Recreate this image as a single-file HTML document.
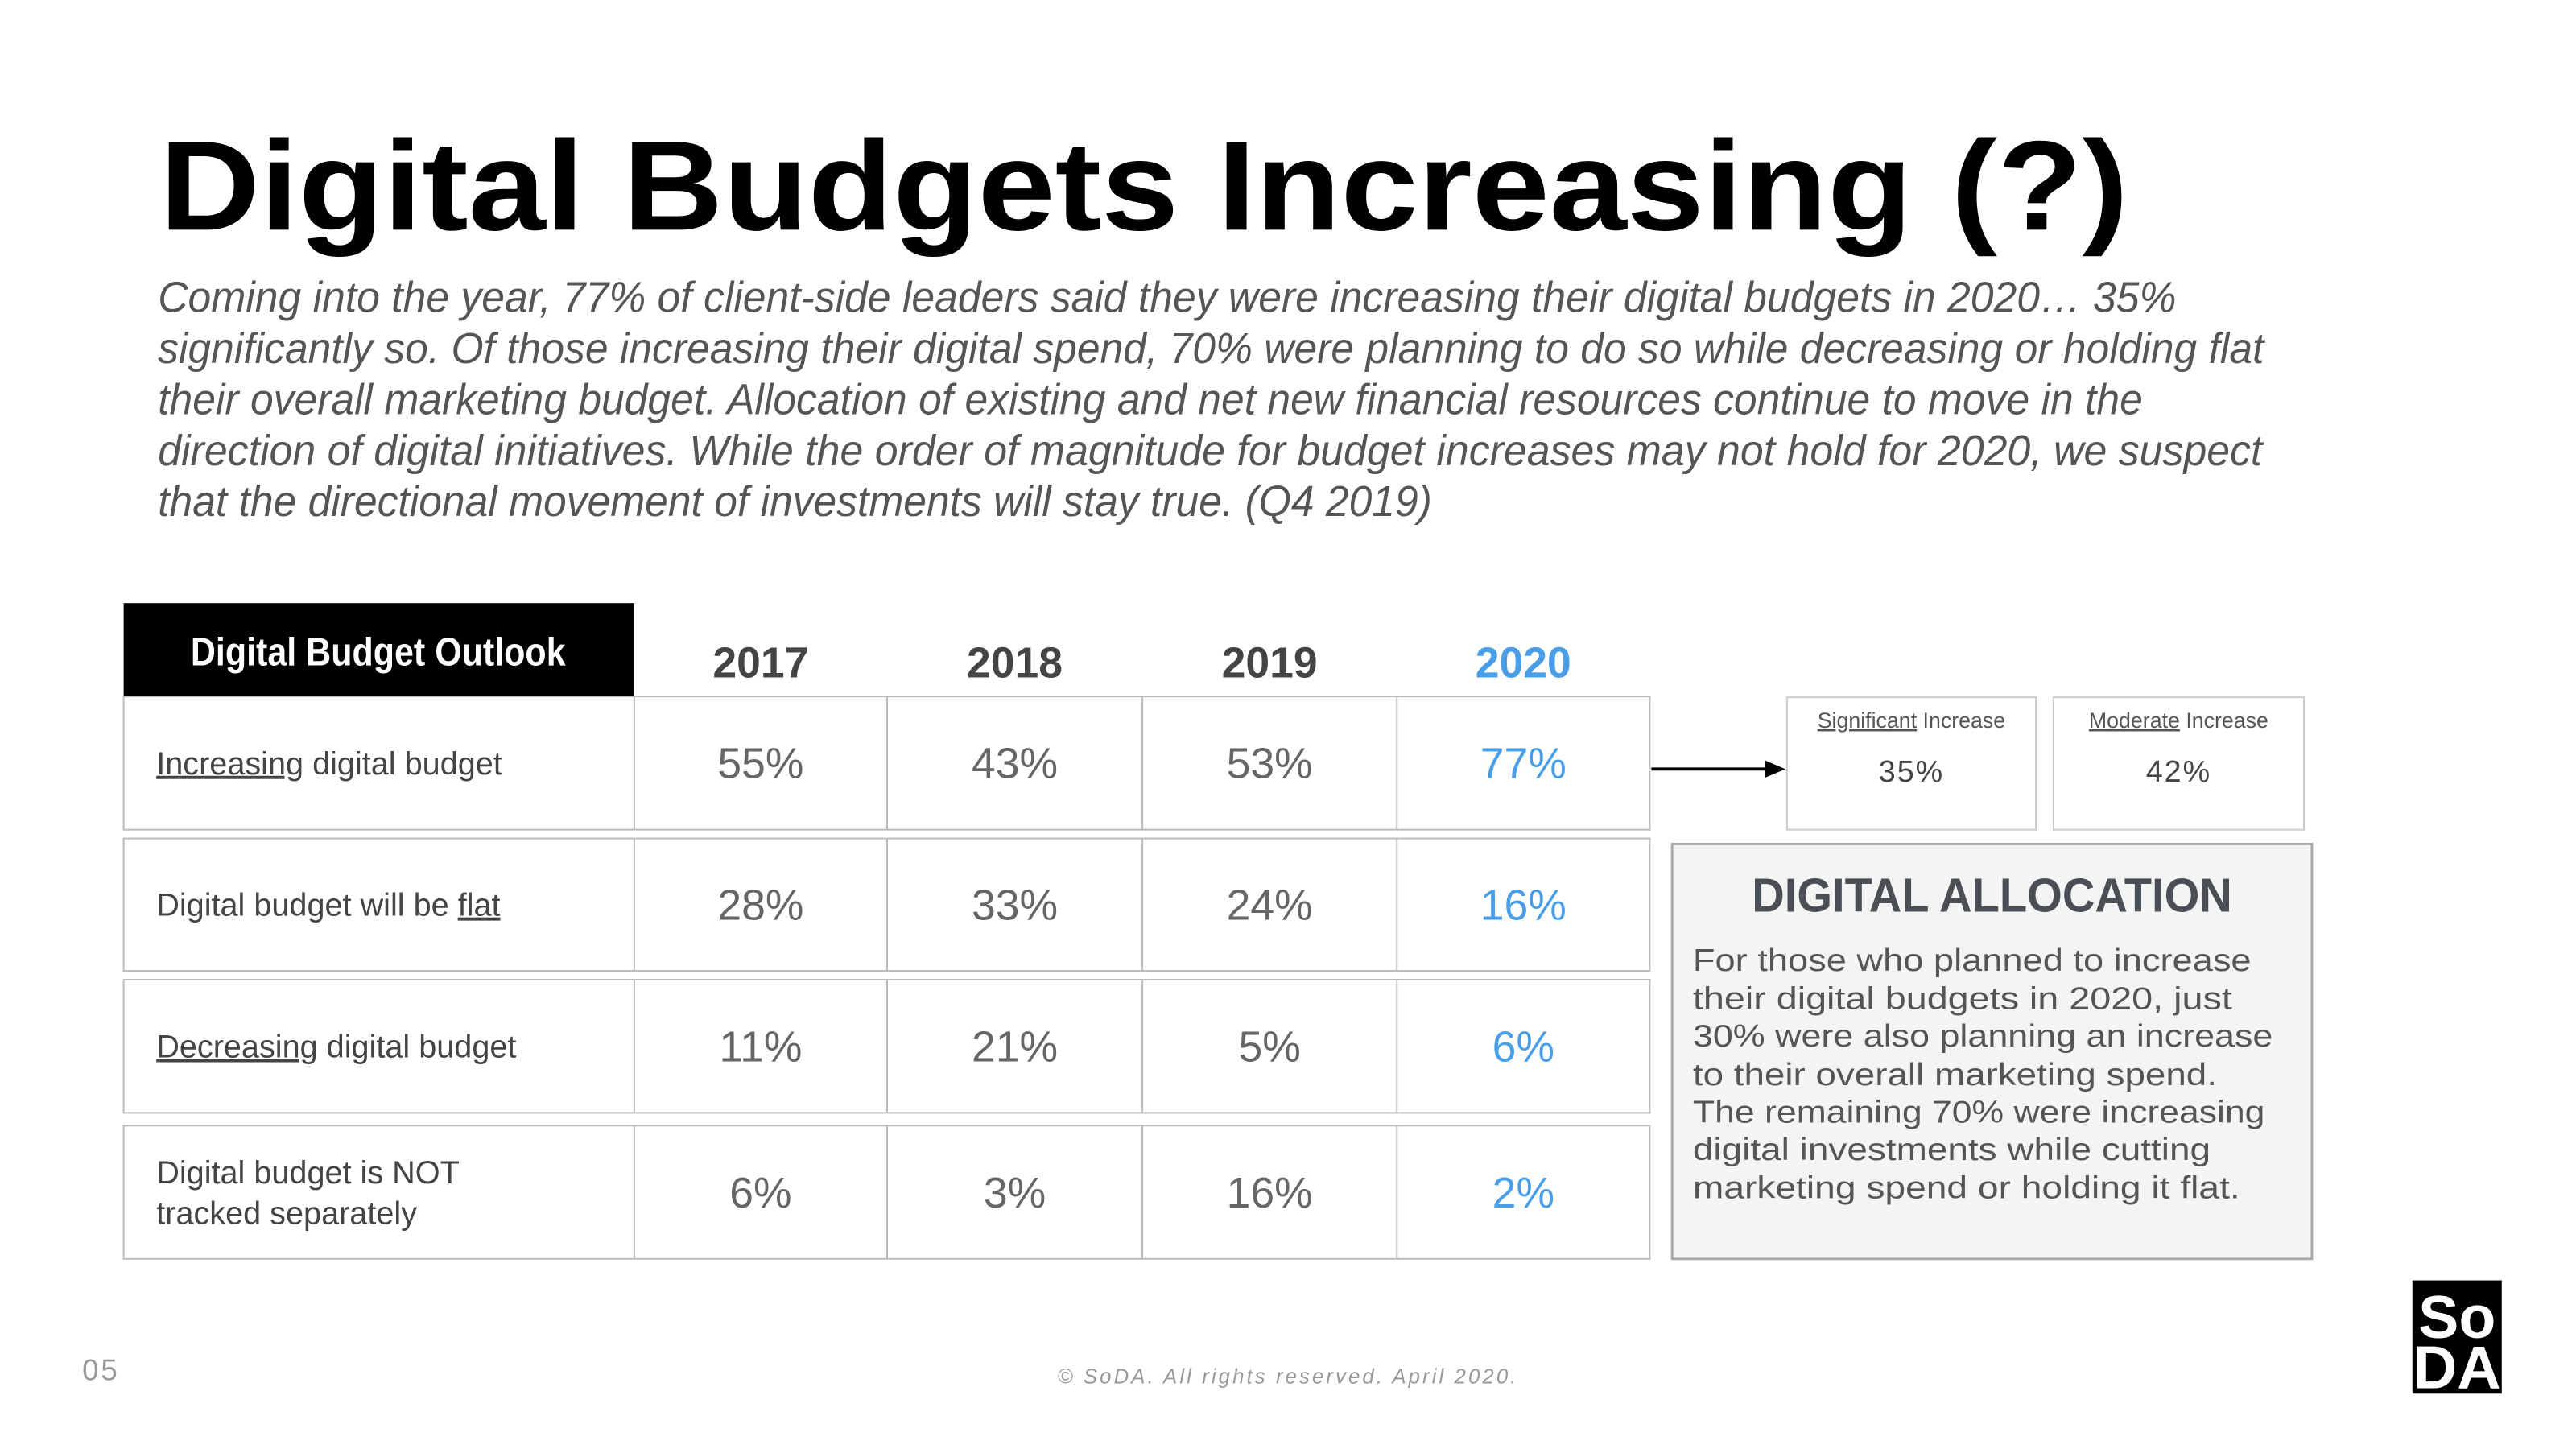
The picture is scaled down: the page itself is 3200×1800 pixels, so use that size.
<!DOCTYPE html>
<html><head><meta charset="utf-8"><style>
html,body{margin:0;padding:0;background:#fff;width:3200px;height:1800px;overflow:hidden}
svg{display:block}
</style></head><body>
<svg id="s" width="3200" height="1800" viewBox="0 0 3200 1800" xmlns="http://www.w3.org/2000/svg" font-family="Liberation Sans, sans-serif">
<g transform="scale(0.991)">
<text x="200" y="288" font-size="160" font-weight="bold" fill="#000" textLength="2468" lengthAdjust="spacingAndGlyphs">Digital Budgets Increasing (?)</text>
<g font-size="54" font-style="italic" fill="#555">
<text x="198" y="391" textLength="2530" lengthAdjust="spacingAndGlyphs">Coming into the year, 77% of client-side leaders said they were increasing their digital budgets in 2020… 35%</text>
<text x="198" y="455" textLength="2640" lengthAdjust="spacingAndGlyphs">significantly so. Of those increasing their digital spend, 70% were planning to do so while decreasing or holding flat</text>
<text x="198" y="519" textLength="2488" lengthAdjust="spacingAndGlyphs">their overall marketing budget. Allocation of existing and net new financial resources continue to move in the</text>
<text x="198" y="583" textLength="2638" lengthAdjust="spacingAndGlyphs">direction of digital initiatives. While the order of magnitude for budget increases may not hold for 2020, we suspect</text>
<text x="198" y="647" textLength="1597" lengthAdjust="spacingAndGlyphs">that the directional movement of investments will stay true. (Q4 2019)</text>
</g>
<rect x="155" y="756" width="640" height="116" fill="#000"/>
<text x="474" y="834" font-size="50" font-weight="bold" fill="#fff" text-anchor="middle" textLength="470" lengthAdjust="spacingAndGlyphs">Digital Budget Outlook</text>
<g id="tbl"></g>
<line x1="2070" y1="964" x2="2215" y2="964" stroke="#000" stroke-width="4"/>
<polygon points="2238,964 2212,953 2212,975" fill="#000"/>
<g>
<rect x="2240" y="874" width="312" height="166" fill="#fff" stroke="#ccc" stroke-width="2"/>
<text x="2396" y="912" font-size="27" fill="#555" text-anchor="middle"><tspan text-decoration="underline">Significant</tspan> Increase</text>
<text x="2396" y="980" font-size="38" fill="#444" text-anchor="middle" letter-spacing="2">35%</text>
</g>
<g>
<rect x="2574" y="874" width="314" height="166" fill="#fff" stroke="#ccc" stroke-width="2"/>
<text x="2731" y="912" font-size="27" fill="#555" text-anchor="middle"><tspan text-decoration="underline">Moderate</tspan> Increase</text>
<text x="2731" y="980" font-size="38" fill="#444" text-anchor="middle" letter-spacing="2">42%</text>
</g>
<g>
<rect x="2096" y="1058" width="802" height="520" fill="#f4f4f4" stroke="#aaa" stroke-width="3"/>
<text x="2497" y="1143" font-size="60" font-weight="bold" fill="#4a4f55" text-anchor="middle" textLength="602" lengthAdjust="spacingAndGlyphs">DIGITAL ALLOCATION</text>
<g font-size="39" fill="#555">
<text x="2122" y="1217" textLength="700" lengthAdjust="spacingAndGlyphs">For those who planned to increase</text>
<text x="2122" y="1265" textLength="676" lengthAdjust="spacingAndGlyphs">their digital budgets in 2020, just</text>
<text x="2122" y="1312" textLength="727" lengthAdjust="spacingAndGlyphs">30% were also planning an increase</text>
<text x="2122" y="1360" textLength="657" lengthAdjust="spacingAndGlyphs">to their overall marketing spend.</text>
<text x="2122" y="1407" textLength="717" lengthAdjust="spacingAndGlyphs">The remaining 70% were increasing</text>
<text x="2122" y="1454" textLength="649" lengthAdjust="spacingAndGlyphs">digital investments while cutting</text>
<text x="2122" y="1502" textLength="686" lengthAdjust="spacingAndGlyphs">marketing spend or holding it flat.</text>
</g>
</g>
<text x="103" y="1730" font-size="37" fill="#999" letter-spacing="3">05</text>
<text x="1613" y="1734" font-size="26" font-style="italic" fill="#999" text-anchor="middle" textLength="575" lengthAdjust="spacing">© SoDA. All rights reserved. April 2020.</text>
<g>
<rect x="3024" y="1605" width="112" height="142" fill="#000"/>
<text x="3080" y="1677" font-size="76" font-weight="bold" fill="#fff" text-anchor="middle">So</text>
<text x="3080" y="1740" font-size="76" font-weight="bold" fill="#fff" text-anchor="middle">DA</text>
</g>
</g>
</svg>
<script>
const years = ["2017","2018","2019","2020"];
const rowLabels = [["Increasing digital budget"],["Digital budget will be flat"],["Decreasing digital budget"],["Digital budget is NOT","tracked separately"]];
const v2017 = ["55%","28%","11%","6%"];
const v2018 = ["43%","33%","21%","3%"];
const v2019 = ["53%","24%","5%","16%"];
const v2020 = ["77%","16%","6%","2%"];
const NS="http://www.w3.org/2000/svg";
const g=document.getElementById('tbl');
const colX=[155,795,1112,1432,1751,2068];
const rowY=[[873,1040],[1051,1217],[1228,1395],[1411,1578]];
const series=[v2017,v2018,v2019,v2020];
function mk(t,a){const e=document.createElementNS(NS,t);for(const k in a)e.setAttribute(k,a[k]);g.appendChild(e);return e;}
years.forEach((y,i)=>{
  const t=mk('text',{x:(colX[i+1]+colX[i+2])/2,y:849,'font-size':54,'font-weight':'bold','text-anchor':'middle',fill:i===3?'#4a9ee8':'#444'});
  
  
  t.textContent=y;
});
rowLabels.forEach((lab,r)=>{
  const [y0,y1]=rowY[r];
  const box=mk('rect',{x:colX[0],y:y0,width:colX[5]-colX[0],height:y1-y0,fill:'#fff',stroke:'#bbb','stroke-width':2});
  
  
  for(let c=1;c<5;c++){const l=mk('line',{x1:colX[c],x2:colX[c],y1:y0,y2:y1,stroke:'#bbb','stroke-width':2});
    
    }
  const mid=(y0+y1)/2;
  lab.forEach((line,k)=>{
    const ty=lab.length===1?mid+14:mid+14-25+k*51;
    const t=mk('text',{x:196,y:ty,'font-size':40,fill:'#444'});
    
    
    if(r===0||r===2){const w=line.split(' ');const u=document.createElementNS(NS,'tspan');u.setAttribute('text-decoration','underline');u.textContent=w[0];t.appendChild(u);t.appendChild(document.createTextNode(' '+w.slice(1).join(' ')));}
    else if(r===1){t.appendChild(document.createTextNode('Digital budget will be '));const u=document.createElementNS(NS,'tspan');u.setAttribute('text-decoration','underline');u.textContent='flat';t.appendChild(u);}
    else t.textContent=line;
  });
  series.forEach((s,i)=>{
    const t=mk('text',{x:(colX[i+1]+colX[i+2])/2,y:mid+19,'font-size':54,'text-anchor':'middle',fill:i===3?'#4a9ee8':'#666'});
    
    
    t.textContent=s[r];
  });
});
</script>
</body></html>
